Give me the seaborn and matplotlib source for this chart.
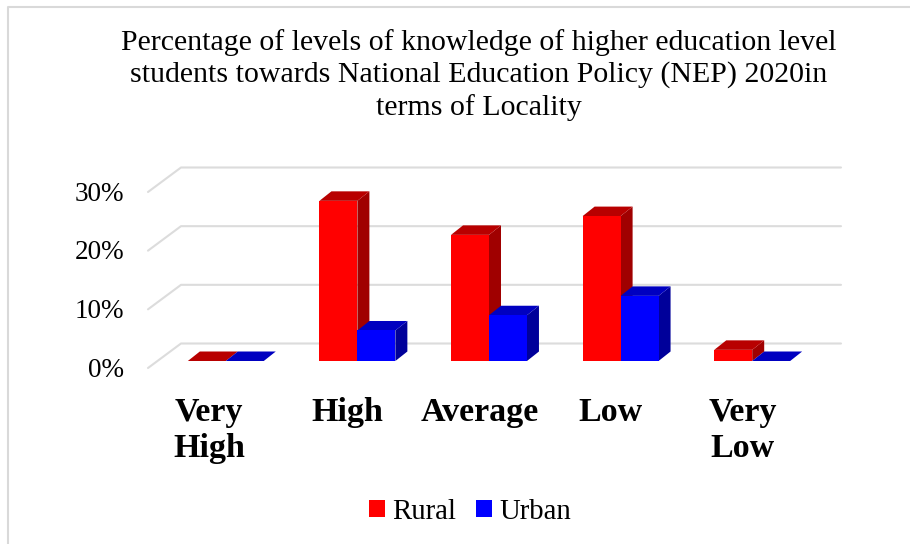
import matplotlib
matplotlib.use("Agg")
import matplotlib.pyplot as plt
from matplotlib.lines import Line2D
from matplotlib.patches import Polygon, Rectangle
from matplotlib.transforms import ScaledTranslation
import pandas as pd
import seaborn as sns

categories = ["Very\nHigh", "High", "Average", "Low", "Very\nLow"]
rural = [0.0, 27.3, 21.5, 24.7, 1.9]
urban = [0.0, 5.2, 7.8, 11.1, 0.0]
y_ticks = [0, 10, 20, 30]
title = ("Percentage of levels of knowledge of higher education level\n"
         "students towards National Education Policy (NEP) 2020in\n"
         "terms of Locality")

W, H = 910, 544
DEPTH_X, DEPTH_Y = 12, 9.5  # bar depth in pixels
faces = {"Rural": ("#ff0000", "#b80000", "#a00000"),
         "Urban": ("#0000ff", "#0000c0", "#00009a")}

sns.set_theme(style="white")
plt.rcParams["font.family"] = ["Liberation Serif", "DejaVu Serif"]

df = pd.DataFrame({
    "category": categories * 2,
    "group": ["Rural"] * len(rural) + ["Urban"] * len(urban),
    "value": rural + urban,
})

fig = plt.figure(figsize=(W / 100, H / 100), dpi=100)
ax = fig.add_axes([160 / W, 183 / H, 658 / W, 176 / H])
ax.patch.set_visible(False)

sns.barplot(data=df, x="category", y="value", hue="group", palette={k: v[0] for k, v in faces.items()},
            width=0.577, gap=0, saturation=1, ax=ax)
ax.set_xlim(-0.5, 4.5)
ax.set_ylim(0, 30)
ax.set_xlabel("")
ax.set_ylabel("")
sns.despine(ax=ax, left=True, bottom=True)

# side and top faces of each bar, worked out from the bar itself
z = 3
for name, container in zip(faces, ax.containers):
    front, top_c, side_c = faces[name]
    for bar in container:
        (x0, y0), (x1, y1) = ax.transData.transform(bar.get_bbox().get_points())
        top = [(x0, y1), (x1, y1), (x1 + DEPTH_X, y1 + DEPTH_Y), (x0 + DEPTH_X, y1 + DEPTH_Y)]
        side = [(x1, y0), (x1, y1), (x1 + DEPTH_X, y1 + DEPTH_Y), (x1 + DEPTH_X, y0 + DEPTH_Y)]
        for pts, c in ((side, side_c), (top, top_c)):
            ax.add_patch(Polygon(pts, closed=True, fc=c, ec="none", transform=None, zorder=z, clip_on=False))
        bar.set_zorder(z + 0.5)
        bar.set_edgecolor("none")
        z += 1

# back wall grid with the little slanted stubs on the left
for t in y_ticks:
    y = ax.transData.transform((0, t))[1]
    xs = [148, 181, 841]
    ys = [y - 7, y + 17.5, y + 17.5]
    fig.add_artist(Line2D(xs, ys, color="#dcdcdc", lw=1.5, transform=None, zorder=0))

ax.set_yticks(y_ticks)
ax.set_yticklabels([f"{t}%" for t in y_ticks], fontsize=19.5, color="black")
ax.tick_params(axis="y", length=0, pad=26)
ax.tick_params(axis="x", length=0, pad=26)
for lab in ax.get_yticklabels():
    lab.set_transform(lab.get_transform() + ScaledTranslation(0, -4.5 / 72, fig.dpi_scale_trans))
for i, lab in enumerate(ax.get_xticklabels()):
    lab.set_fontsize(24.5)
    lab.set_fontweight("bold")
    lab.set_color("black")
    lab.set_linespacing(1.19)
    shift = -12 if i == 0 else -7  # first label sits a bit further left in the original
    lab.set_transform(lab.get_transform() + ScaledTranslation(shift / 72, 0, fig.dpi_scale_trans))

fig.text(479 / W, 1 - 75 / H, title, ha="center", va="center", fontsize=21.5, color="black", linespacing=1.28)

handles = [Rectangle((0, 0), 1, 1, fc=faces[k][0], ec="none") for k in faces]
ax.legend(handles, list(faces), loc="center", bbox_to_anchor=(470 / W, 1 - 512 / H),
          bbox_transform=fig.transFigure, ncol=2, frameon=False, fontsize=20.7, labelcolor="black",
          handlelength=0.55, handleheight=0.55, handletextpad=0.25, columnspacing=0.7)

# chart border, only left and top are in the image
fig.add_artist(Line2D([8, 8, W], [0, H - 7, H - 7], color="#d9d9d9", lw=1.5, transform=None))

fig.savefig("out.png", dpi=100)
